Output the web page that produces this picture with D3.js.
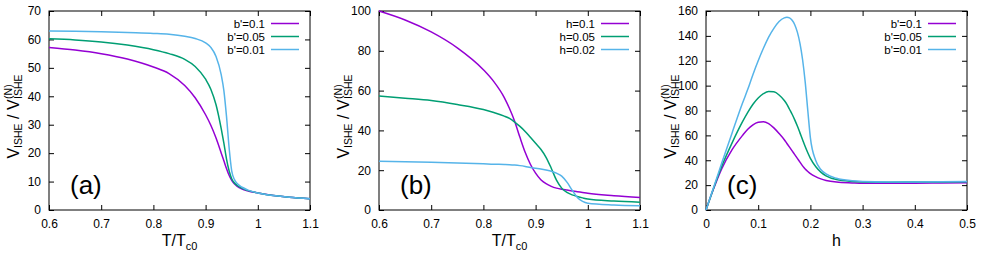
<!DOCTYPE html>
<html>
<head>
<meta charset="utf-8">
<script src="https://cdn.jsdelivr.net/npm/d3@7"></script>
<style>
  body { margin: 0; background: #fff; }
  svg { display: block; font-family: "Liberation Sans", Arial, sans-serif; }
</style>
</head>
<body>
<div id="chart"></div>
<script>
// ---- data ----
var colors = ["#9400d3", "#009e73", "#56b4e9"];

// panel (a): V/V(N) vs T/Tc0 for several b'
var tA = [0.6, 0.65, 0.7, 0.75, 0.8, 0.83, 0.86, 0.88, 0.9, 0.91, 0.92, 0.93, 0.935, 0.94, 0.945, 0.95, 0.955, 0.96, 0.97, 0.98, 1.0, 1.03, 1.06, 1.1];
var aB01 = [57.2, 56.3, 55.0, 53.1, 50.3, 48.0, 43.8, 39.5, 33.5, 29.8, 25.3, 20, 17.3, 14.6, 12.2, 10.4, 9.2, 8.4, 7.4, 6.8, 6.0, 5.1, 4.5, 4.0];
var aB005 = [60.2, 59.8, 59.1, 58.0, 56.4, 55.0, 53.0, 50.5, 46, 42.5, 37, 28.5, 23.5, 18, 13.8, 11, 9.6, 8.7, 7.6, 6.9, 6.0, 5.1, 4.5, 4.0];
var aB001 = [63, 62.9, 62.7, 62.4, 62.1, 61.8, 61.1, 60.3, 58.8, 57.2, 54, 47.5, 42, 33, 22, 13.8, 10.8, 9.4, 8.0, 7.1, 6.0, 5.1, 4.5, 4.0];
var legendA = ["b'=0.1", "b'=0.05", "b'=0.01"];

// panel (b): V/V(N) vs T/Tc0 for several h
var tB = [0.6, 0.65, 0.7, 0.75, 0.8, 0.82, 0.84, 0.85, 0.86, 0.87, 0.88, 0.89, 0.9, 0.91, 0.92, 0.93, 0.94, 0.95, 0.96, 0.97, 0.98, 0.99, 1.0, 1.05, 1.1];
var bH01 = [100, 95.5, 89.5, 81.5, 70.5, 64.5, 56.5, 51, 44.5, 36.5, 29, 23, 18.5, 15.2, 13.2, 11.9, 11, 10.4, 10, 9.6, 9.2, 8.8, 8.4, 7.2, 6.3];
var bH005 = [57.3, 56.2, 55, 53, 50.5, 49, 47.2, 46, 44.2, 42, 39.5, 36.5, 33.5, 30.5, 26.5, 21, 15, 11, 8.8, 7.6, 6.8, 6.1, 5.5, 4.5, 3.9];
var bH002 = [24.5, 24.3, 24.0, 23.6, 23.2, 23, 22.9, 22.8, 22.6, 22.3, 21.9, 21.4, 21.0, 20.6, 20.1, 19.5, 18.5, 17, 14, 10, 6.3, 4.3, 3.4, 2.5, 2.1];
var legendB = ["h=0.1", "h=0.05", "h=0.02"];

// panel (c): V/V(N) vs h for several b'
var hC = [0, 0.01, 0.02, 0.03, 0.05, 0.07, 0.08, 0.09, 0.1, 0.11, 0.12, 0.13, 0.14, 0.15, 0.155, 0.16, 0.165, 0.17, 0.175, 0.18, 0.185, 0.19, 0.195, 0.2, 0.21, 0.22, 0.23, 0.25, 0.28, 0.3, 0.35, 0.4, 0.45, 0.5];
var cB01 = [0, 12, 23, 33, 48.5, 60, 65, 68.5, 70.5, 71, 69.5, 66, 61.5, 56.5, 53.5, 50.5, 47.5, 44.5, 41.5, 38.5, 35.5, 33, 31, 29.3, 26.8, 25, 23.8, 22.5, 21.8, 21.5, 21.5, 21.6, 21.8, 22];
var cB005 = [0, 12, 24, 35, 54, 71, 78.5, 85, 90, 93.5, 95.3, 95, 92.5, 88, 85, 81, 77, 72.5, 67.5, 62, 56.5, 51, 46, 41.5, 35, 30.5, 27.5, 24.5, 23, 22.6, 22.4, 22.5, 22.6, 22.8];
var cB001 = [0, 12.5, 25, 37.5, 62, 86, 97, 109, 120, 130, 139, 146, 151.5, 154.5, 155, 154.5, 152.5, 149, 143, 134, 121, 103, 80, 58, 40, 32.5, 29, 25.5, 23.5, 23, 22.6, 22.6, 22.7, 23];
var legendC = ["b'=0.1", "b'=0.05", "b'=0.01"];

var panels = [
  { left: 49, x: tA, ys: [aB01, aB005, aB001], names: legendA, xDomain: [0.6, 1.1], xTicks: [0.6, 0.7, 0.8, 0.9, 1, 1.1],
    yDomain: [0, 70], yTicks: d3.range(0, 71, 10), tag: "(a)", xLabel: "T/T", xSub: "c0" },
  { left: 379, x: tB, ys: [bH01, bH005, bH002], names: legendB, xDomain: [0.6, 1.1], xTicks: [0.6, 0.7, 0.8, 0.9, 1, 1.1],
    yDomain: [0, 100], yTicks: d3.range(0, 101, 20), tag: "(b)", xLabel: "T/T", xSub: "c0" },
  { left: 706, x: hC, ys: [cB01, cB005, cB001], names: legendC, xDomain: [0, 0.5], xTicks: [0, 0.1, 0.2, 0.3, 0.4, 0.5],
    yDomain: [0, 160], yTicks: d3.range(0, 161, 20), tag: "(c)", xLabel: "h", xSub: "" }
];

var svgWidth = 981;
var svgHeight = 258;
var plotW = 261;
var plotTop = 11;
var plotBottom = 210;

var svg = d3
  .select("#chart")
  .append("svg")
  .attr("width", svgWidth)
  .attr("height", svgHeight);

panels.forEach(function (p) {
  var g = svg.append("g").attr("transform", `translate(${p.left}, 0)`);

  var x = d3.scaleLinear().domain(p.xDomain).range([0, plotW]);
  var y = d3.scaleLinear().domain(p.yDomain).range([plotBottom, plotTop]);
  var fmt = function (d) { return String(+d.toFixed(2)); };

  // gnuplot style: inward ticks on all four sides
  g.append("g")
    .attr("transform", `translate(0, ${plotBottom})`)
    .call(d3.axisBottom(x).tickValues(p.xTicks).tickFormat(fmt).tickSizeInner(-5).tickSizeOuter(0).tickPadding(9))
    .call(styleAxis);
  g.append("g")
    .attr("transform", `translate(0, ${plotTop})`)
    .call(d3.axisTop(x).tickValues(p.xTicks).tickFormat("").tickSizeInner(-5).tickSizeOuter(0))
    .call(styleAxis);
  g.append("g")
    .call(d3.axisLeft(y).tickValues(p.yTicks).tickSizeInner(-5).tickSizeOuter(0).tickPadding(8))
    .call(styleAxis);
  g.append("g")
    .attr("transform", `translate(${plotW}, 0)`)
    .call(d3.axisRight(y).tickValues(p.yTicks).tickFormat("").tickSizeInner(-5).tickSizeOuter(0))
    .call(styleAxis);

  g.append("rect")
    .attr("x", 0)
    .attr("y", plotTop)
    .attr("width", plotW)
    .attr("height", plotBottom - plotTop)
    .attr("fill", "none")
    .attr("stroke", "#000")
    .attr("stroke-width", 1);

  // curves
  var line = d3.line()
    .x(function (d) { return x(d[0]); })
    .y(function (d) { return y(d[1]); })
    .curve(d3.curveMonotoneX);

  p.ys.forEach(function (vals, i) {
    g.append("path")
      .datum(p.x.map(function (v, j) { return [v, vals[j]]; }))
      .attr("d", line)
      .attr("fill", "none")
      .attr("stroke", colors[i])
      .attr("stroke-width", 1.5);
  });

  // legend
  p.names.forEach(function (name, i) {
    var ly = 23.5 + i * 13;
    g.append("text")
      .attr("x", plotW - 45)
      .attr("y", ly)
      .attr("dy", "0.35em")
      .attr("text-anchor", "end")
      .attr("font-size", "11.5px")
      .text(name);
    g.append("line")
      .attr("x1", plotW - 39)
      .attr("x2", plotW - 11)
      .attr("y1", ly)
      .attr("y2", ly)
      .attr("stroke", colors[i])
      .attr("stroke-width", 1.5);
  });

  // panel tag
  g.append("text")
    .attr("x", 21)
    .attr("y", 194)
    .attr("font-size", "26px")
    .text(p.tag);

  // x axis label
  var xl = g.append("text")
    .attr("x", plotW / 2)
    .attr("y", 246)
    .attr("text-anchor", "middle")
    .attr("font-size", "16px")
    .text(p.xLabel);
  if (p.xSub) {
    xl.append("tspan")
      .attr("font-size", "11px")
      .attr("dy", 4)
      .text(p.xSub);
  }

  // y axis label: V_ISHE / V^(N)_ISHE
  var yl = g.append("g")
    .attr("transform", `translate(-30, ${(plotTop + plotBottom) / 2 + 6}) rotate(-90)`);
  var main = yl.append("text").attr("font-size", "16px").attr("text-anchor", "start");
  main.append("tspan").text("V");
  main.append("tspan").attr("font-size", "10.5px").attr("dy", 3).text("ISHE");
  main.append("tspan").attr("dy", -3).text(" / V");
  var w = main.node().getComputedTextLength();
  var sup = yl.append("text").attr("font-size", "10.5px").attr("x", w + 0.5).attr("y", -7).text("(N)");
  var sub = yl.append("text").attr("font-size", "10.5px").attr("x", w + 0.5).attr("y", 3).text("ISHE");
  var total = w + 0.5 + Math.max(sup.node().getComputedTextLength(), sub.node().getComputedTextLength());
  yl.selectAll("text").attr("transform", `translate(${-total / 2}, 0)`);
});

function styleAxis(sel) {
  sel.select(".domain").remove();
  sel.selectAll(".tick line").attr("stroke", "#000");
  sel.selectAll(".tick text")
    .attr("fill", "#000")
    .style("font-size", "12px")
    .style("font-family", "Liberation Sans, Arial, sans-serif");
}
</script>
</body>
</html>
